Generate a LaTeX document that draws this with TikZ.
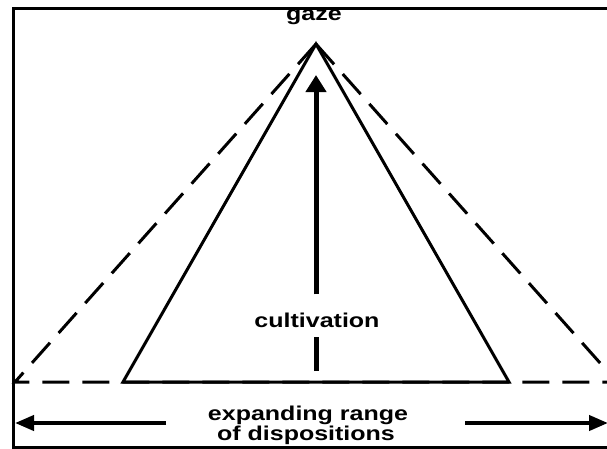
\documentclass[tikz,border=0pt]{standalone}
\usepackage{fontspec}
\newfontfamily\lblfont[FakeStretch=1.25]{Liberation Sans}
\usetikzlibrary{arrows.meta}
\tikzset{
  lbl/.style={font=\lblfont\bfseries\fontsize{20pt}{22pt}\selectfont, inner sep=0pt, anchor=base},
  solidline/.style={line width=3pt, line join=miter},
  dashline/.style={line width=3pt, dash pattern=on 27pt off 13pt},
  bigarrow/.style={line width=4pt, -{Triangle[length=19pt,width=15pt]}},
  uparrow/.style={line width=5pt, -{Triangle[length=17pt,width=20pt]}},
}
\begin{document}
\begin{tikzpicture}[x=1pt,y=-1pt]
\useasboundingbox (0,0) rectangle (607,448);
\fill[white] (0,0) rectangle (607,448);
% frame
\draw[line width=3pt] (13.5,8.5) rectangle (614,447);
% points
\coordinate (apex) at (316,44);
\coordinate (sl) at (123,382);
\coordinate (sr) at (509,382);
\coordinate (dl) at (15,382);
\coordinate (dr) at (617,382);
% dashed triangle
\draw[dashline] (apex) -- (dl) -- (dr) -- cycle;
% solid triangle
\draw[solidline] (apex) -- (sl) -- (sr) -- cycle;
% labels
\node[lbl] (gaze) at (314,20) {gaze};
\node[lbl] (cult) at (317,327) {cultivation};
\node[lbl] (exp1) at (308,420) {expanding range};
\node[lbl] (exp2) at (306,440) {of dispositions};
% vertical arrow
\coordinate (vbot) at (316,371);
\coordinate (vtip) at (316,75);
\draw[line width=5pt, shorten >=10pt] (vbot) -- (vbot |- cult.south);
\draw[uparrow, shorten <=18pt] (vtip |- cult.north) -- (vtip);
% horizontal arrows
\coordinate (la) at (166,423);
\coordinate (lt) at (15,423);
\coordinate (ra) at (465,423);
\coordinate (rt) at (608,423);
\draw[bigarrow] (la) -- (lt);
\draw[bigarrow] (ra) -- (rt);
\end{tikzpicture}
\end{document}
